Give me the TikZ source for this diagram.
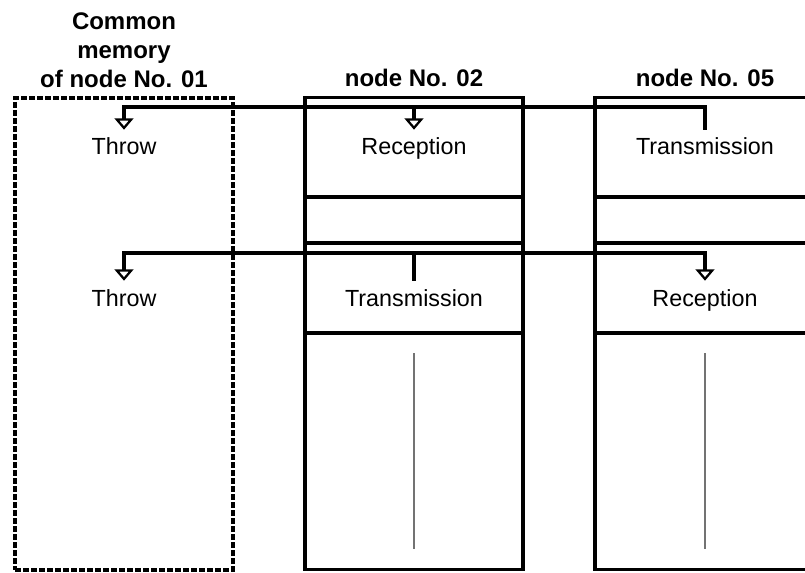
\documentclass[tikz,border=0pt]{standalone}
\usepackage{fontspec}
\setmainfont{Liberation Sans}
\usetikzlibrary{arrows.meta,positioning}
\begin{document}
\begin{tikzpicture}[x=0.75pt,y=-0.75pt,line width=2.4pt,
  unitbox/.style={draw,minimum width=163.5pt,minimum height=354pt,inner sep=0pt},
  membox/.style={unitbox,dash pattern=on 4.5pt off 1.5pt},
  lbl/.style={font=\fontsize{17.5}{21}\selectfont,anchor=base,inner xsep=0pt,inner ysep=5pt,text height=12.75pt,text depth=3.5pt},
  hdr/.style={font=\bfseries\fontsize{18}{21.75}\selectfont,align=center,inner sep=0pt},
  feed/.style={line width=2.2pt,black!55},
  tip/.style={-{Triangle[open,width=14pt,length=8.5pt,line width=1.7pt]}}]
  \path[use as bounding box,clip] (0,0) rectangle (805,573);
  \node[membox] (mem01) at (124,334) {};
  \node[unitbox] (box02) at (414,333.5) {};
  \node[unitbox,minimum width=165pt] (box05) at (705,333.5) {};
  \node[hdr,above=5.5pt of mem01] (hdr01) {Common\\memory\\of node No. 01};
  \node[hdr,above=6pt of box02] (hdr02) {node No. 02};
  \node[hdr,above=6pt of box05] (hdr05) {node No. 05};
  \foreach \y in {197,243,333} {
    \draw (box02.west |- 0,\y) -- (box02.east |- 0,\y);
    \draw (box05.west |- 0,\y) -- (box05.east |- 0,\y);
  }
  \node[lbl] (thr1) at (124,155) {Throw};
  \node[lbl] (rec2) at (414,155) {Reception};
  \node[lbl] (tra5) at (705,155) {Transmission};
  \node[lbl] (thr2) at (124,306) {Throw};
  \node[lbl] (tra2) at (414,306) {Transmission};
  \node[lbl] (rec5) at (705,306) {Reception};
  \coordinate (bus1) at (0,107);
  \coordinate (bus2) at (0,253);
  \draw[tip] (tra5.north) |- (thr1 |- bus1) -- (thr1.north);
  \draw[tip] (rec2 |- bus1) -- (rec2.north);
  \draw[tip] (tra2.north) |- (thr2 |- bus2) -- (thr2.north);
  \draw[tip] (tra2 |- bus2) -| (rec5.north);
  \draw[feed] (box02.center |- 0,353) -- (box02.center |- 0,549);
  \draw[feed] (box05.center |- 0,353) -- (box05.center |- 0,549);
\end{tikzpicture}
\end{document}
